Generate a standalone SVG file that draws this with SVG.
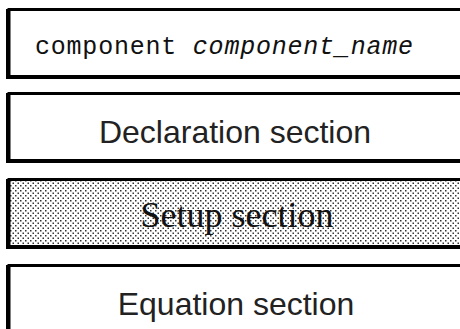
<svg xmlns="http://www.w3.org/2000/svg" width="460" height="329" viewBox="0 0 460 329">
<defs>
<pattern id="dots" width="5" height="5" patternUnits="userSpaceOnUse">
<rect x="0" y="0" width="1.5" height="1.5" fill="#333"/>
<rect x="2.5" y="2.5" width="1.5" height="1.5" fill="#333"/>
</pattern>
</defs>
<style>
.box{stroke:#000;stroke-width:3}
.sh{stroke:#000;stroke-width:2;fill:none}
.sans{font-family:"Liberation Sans",Arial,sans-serif;font-size:32px;fill:#222;text-anchor:middle}
.serif{font-family:"Liberation Serif","Times New Roman",serif;font-size:36px;fill:#111;text-anchor:middle}
.mono{font-family:"Liberation Mono","Courier New",monospace;font-size:25px;fill:#111}
</style>
<g id="header">
<rect class="box" x="9" y="9.5" width="480" height="67" fill="#fff"/>
<path class="sh" d="M7 9 V78 H470"/>
<text class="mono" x="35" y="54" textLength="378" lengthAdjust="spacing">component <tspan font-style="italic">component_name</tspan></text>
</g>
<g id="declaration">
<rect class="box" x="9" y="93.5" width="480" height="67" fill="#fff"/>
<path class="sh" d="M7 93 V162 H470"/>
<text class="sans" x="235" y="143">Declaration section</text>
</g>
<g id="setup">
<rect class="box" x="9" y="179.5" width="480" height="67" fill="url(#dots)"/>
<path class="sh" d="M7 179 V248 H470"/>
<text class="serif" x="237" y="227">Setup section</text>
</g>
<g id="equation">
<rect class="box" x="9" y="265.5" width="480" height="80" fill="#fff"/>
<path class="sh" d="M7 265 V340"/>
<text class="sans" x="236" y="315">Equation section</text>
</g>
</svg>
